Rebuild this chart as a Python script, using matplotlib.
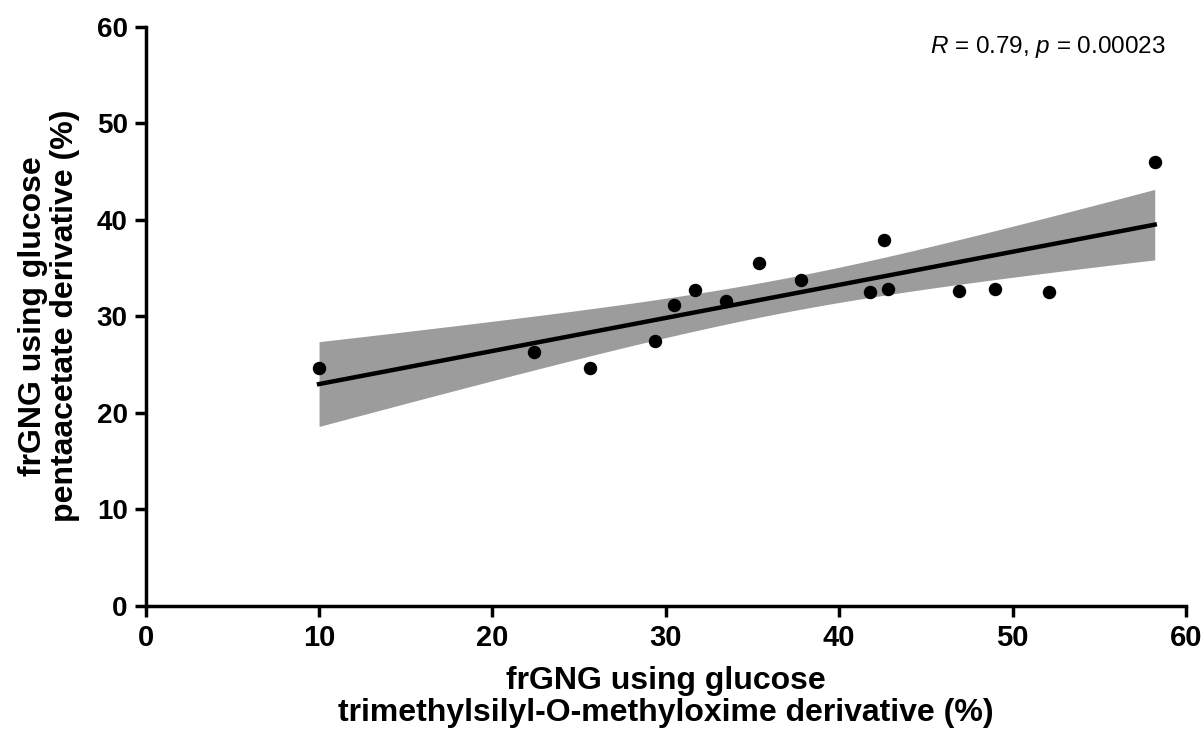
import matplotlib
matplotlib.use('Agg')
import matplotlib.pyplot as plt
import numpy as np

plt.rcParams.update({
    'font.family': ['Liberation Sans', 'DejaVu Sans'],
    'mathtext.fontset': 'custom',
    'mathtext.rm': 'Liberation Sans',
    'mathtext.it': 'Liberation Sans:italic',
})

# frGNG values (%)
tms_mox = [10.0, 22.4, 25.6, 29.4, 30.5, 31.7, 33.5, 35.4, 37.8, 41.8, 42.6, 42.8, 46.9, 49.0, 52.1, 58.2]
penta = [24.6, 26.3, 24.6, 27.4, 31.2, 32.7, 31.6, 35.5, 33.8, 32.5, 37.9, 32.8, 32.6, 32.8, 32.5, 46.0]
x_ticks = [0, 10, 20, 30, 40, 50, 60]
y_ticks = [0, 10, 20, 30, 40, 50, 60]
stat_text = r'$\it{R}$ = 0.79, $\it{p}$ = 0.00023'

x = np.array(tms_mox)
y = np.array(penta)
n = len(x)

# linear fit + 95% confidence band
slope, intercept = np.polyfit(x, y, 1)
xs = np.linspace(x.min(), x.max(), 200)
ys = slope * xs + intercept
resid = y - (slope * x + intercept)
s = np.sqrt(np.sum(resid ** 2) / (n - 2))
t_crit = 2.145  # t(0.975, df=14)
se = s * np.sqrt(1 / n + (xs - x.mean()) ** 2 / np.sum((x - x.mean()) ** 2))

fig = plt.figure(figsize=(12.04, 7.38), dpi=100)
ax = fig.add_axes([0.121, 0.179, 0.864, 0.785])

ax.fill_between(xs, ys - t_crit * se, ys + t_crit * se, color='#9c9c9c', linewidth=0, zorder=1)
ax.plot(xs, ys, color='black', linewidth=3.2, zorder=2)
ax.scatter(x, y, s=75, color='black', zorder=3)

ax.set_xlim(0, 60)
ax.set_ylim(0, 60)
ax.set_xticks(x_ticks)
ax.set_yticks(y_ticks)
for sp in ['top', 'right']:
    ax.spines[sp].set_visible(False)
for sp in ['left', 'bottom']:
    ax.spines[sp].set_linewidth(2.5)
ax.tick_params(width=2.5, length=8, pad=5)
ax.tick_params(axis='y', labelsize=20)
ax.tick_params(axis='x', labelsize=21)
for lab in ax.get_yticklabels():
    lab.set_fontweight('bold')
# x tick numbers are condensed in the original
for lab in ax.get_xticklabels():
    lab.set_fontweight('bold')
    lab.set_fontfamily(['Liberation Sans Narrow', 'Liberation Sans'])

ax.set_xlabel('frGNG using glucose\ntrimethylsilyl-O-methyloxime derivative (%)',
              fontsize=23, fontweight='bold', labelpad=10, linespacing=1.1)
ax.set_ylabel('frGNG using glucose\npentaacetate derivative (%)',
              fontsize=23, fontweight='bold', labelpad=12, linespacing=1.1)

ax.text(0.98, 0.965, stat_text, transform=ax.transAxes, ha='right', va='center', fontsize=17.5)

fig.savefig('out.png', dpi=100)
